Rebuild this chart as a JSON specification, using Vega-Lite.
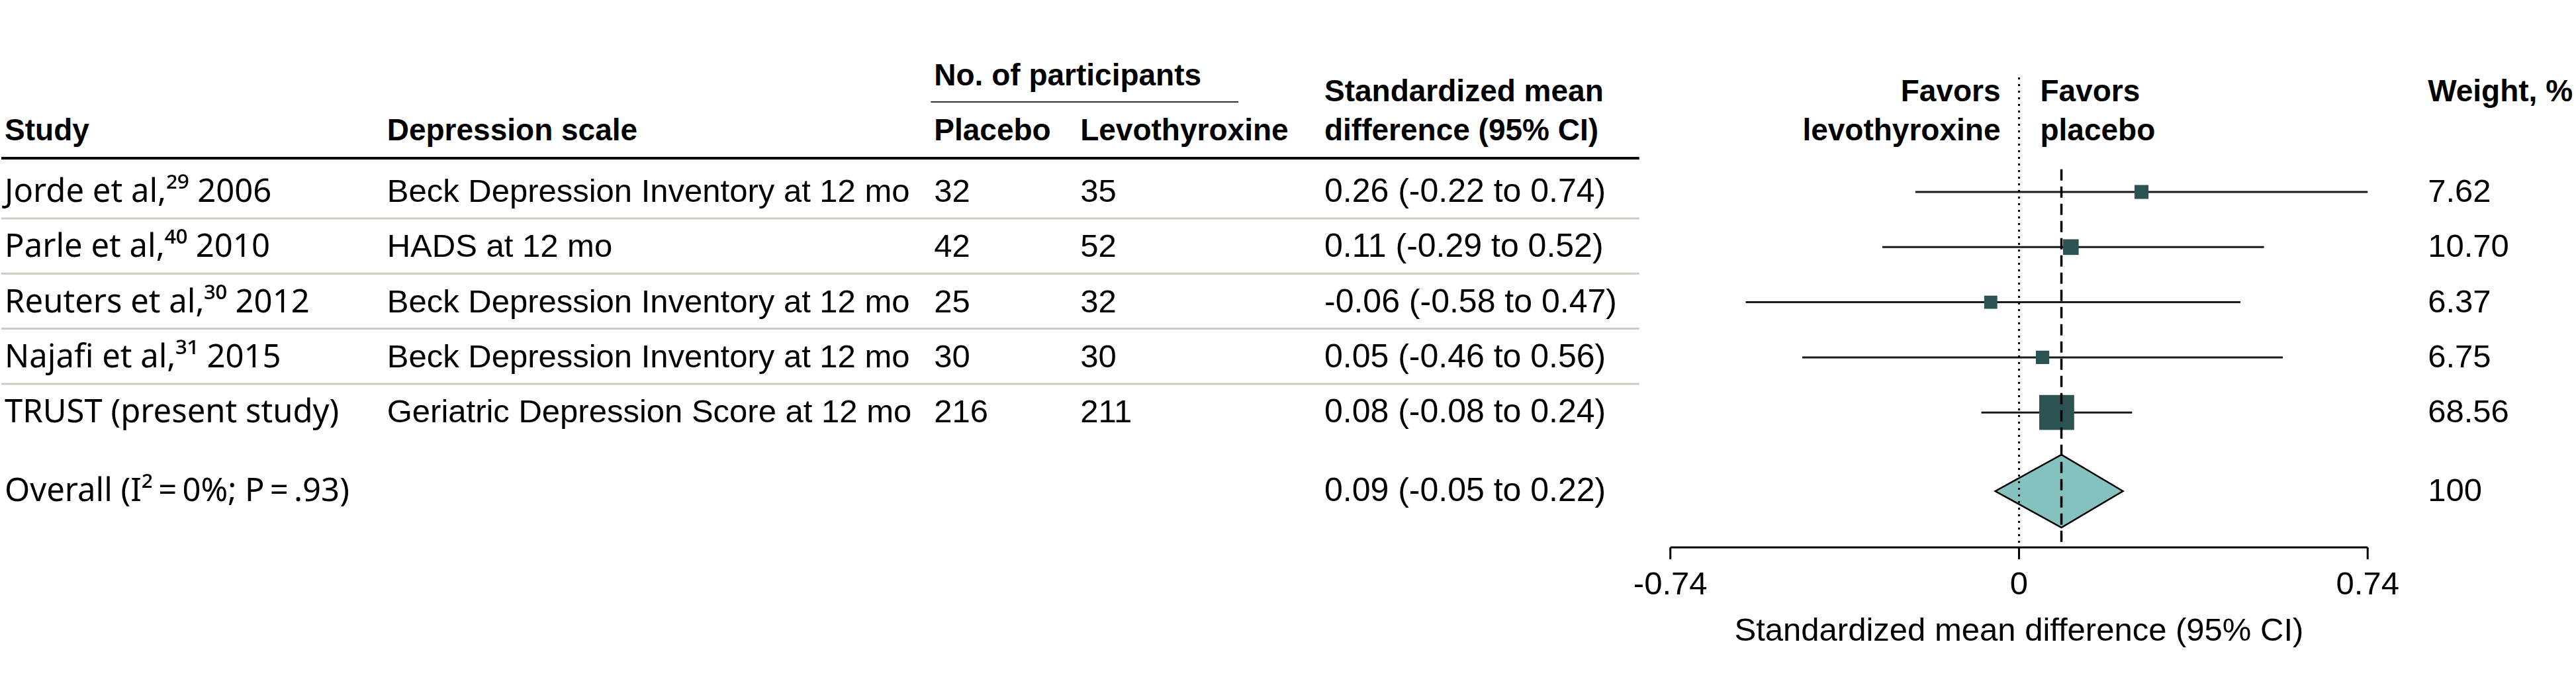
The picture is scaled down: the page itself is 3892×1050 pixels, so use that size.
{
  "$schema": "https://vega.github.io/schema/vega-lite/v6.json",
  "width": 3892,
  "height": 1050,
  "autosize": {"type": "fit", "contains": "padding"},
  "padding": 0,
  "background": "white",
  "config": {
    "view": {"stroke": null},
    "font": "Liberation Sans",
    "text": {"font": "Liberation Sans", "fontSize": 49, "baseline": "middle", "align": "left", "color": "#000000"}
  },
  "datasets": {
    "studies": [
      {"order": 1, "study": "Jorde et al,²⁹ 2006", "scale": "Beck Depression Inventory at 12 mo", "placebo": "32", "levo": "35", "smd_text": "0.26 (-0.22 to 0.74)", "est": 0.26, "lo": -0.22, "hi": 0.74, "weight": 7.62, "weight_text": "7.62"},
      {"order": 2, "study": "Parle et al,⁴⁰ 2010", "scale": "HADS at 12 mo", "placebo": "42", "levo": "52", "smd_text": "0.11 (-0.29 to 0.52)", "est": 0.11, "lo": -0.29, "hi": 0.52, "weight": 10.70, "weight_text": "10.70"},
      {"order": 3, "study": "Reuters et al,³⁰ 2012", "scale": "Beck Depression Inventory at 12 mo", "placebo": "25", "levo": "32", "smd_text": "-0.06 (-0.58 to 0.47)", "est": -0.06, "lo": -0.58, "hi": 0.47, "weight": 6.37, "weight_text": "6.37"},
      {"order": 4, "study": "Najafi et al,³¹ 2015", "scale": "Beck Depression Inventory at 12 mo", "placebo": "30", "levo": "30", "smd_text": "0.05 (-0.46 to 0.56)", "est": 0.05, "lo": -0.46, "hi": 0.56, "weight": 6.75, "weight_text": "6.75"},
      {"order": 5, "study": "TRUST (present study)", "scale": "Geriatric Depression Score at 12 mo", "placebo": "216", "levo": "211", "smd_text": "0.08 (-0.08 to 0.24)", "est": 0.08, "lo": -0.08, "hi": 0.24, "weight": 68.56, "weight_text": "68.56"}
    ],
    "overall": [
      {"label": "Overall (I²\u2009=\u20090%; P\u2009=\u2009.93)", "smd_text": "0.09 (-0.05 to 0.22)", "est": 0.09, "lo": -0.05, "hi": 0.22, "weight_text": "100"}
    ],
    "ticks": [
      {"value": -0.74, "label": "-0.74"},
      {"value": 0, "label": "0"},
      {"value": 0.74, "label": "0.74"}
    ],
    "one": [{"k": 1}]
  },
  "data": {"name": "one"},
  "layer": [
    {
      "mark": {"type": "rule", "strokeWidth": 4, "color": "#000000"},
      "encoding": {
        "x": {"datum": -4.2825, "type": "quantitative", "scale": {"domain": [-4.2825, 1.1822], "nice": false, "zero": false}, "axis": null},
        "x2": {"datum": -0.806},
        "y": {"datum": 0.3878, "type": "quantitative", "scale": {"domain": [-2.4814, 10.1236], "nice": false, "zero": false, "reverse": true}, "axis": null}
      }
    },
    {
      "mark": {"type": "rule", "strokeWidth": 2, "color": "#333333"},
      "encoding": {
        "x": {"datum": -2.3097, "type": "quantitative"},
        "x2": {"datum": -1.6568},
        "y": {"datum": -0.6327, "type": "quantitative"}
      }
    },
    {
      "data": {"name": "studies"},
      "transform": [{"filter": "datum.order < 5"}],
      "mark": {"type": "rule", "strokeWidth": 3, "color": "#c9cdbf", "yOffset": 40},
      "encoding": {
        "x": {"datum": -4.2825, "type": "quantitative"},
        "x2": {"datum": -0.806},
        "y": {"field": "order", "type": "quantitative"}
      }
    },
    {"mark": {"type": "text", "text": "No. of participants", "fontWeight": "bold", "fontSize": 46}, "encoding": {"x": {"datum": -2.3027, "type": "quantitative"}, "y": {"datum": -1.1008, "type": "quantitative"}}},
    {"mark": {"type": "text", "text": "Standardized mean", "fontWeight": "bold", "fontSize": 46}, "encoding": {"x": {"datum": -1.4743, "type": "quantitative"}, "y": {"datum": -0.8127, "type": "quantitative"}}},
    {"mark": {"type": "text", "text": "difference (95% CI)", "fontWeight": "bold", "fontSize": 46}, "encoding": {"x": {"datum": -1.4743, "type": "quantitative"}, "y": {"datum": -0.1044, "type": "quantitative"}}},
    {"mark": {"type": "text", "text": "Study", "fontWeight": "bold", "fontSize": 46}, "encoding": {"x": {"datum": -4.2754, "type": "quantitative"}, "y": {"datum": -0.1044, "type": "quantitative"}}},
    {"mark": {"type": "text", "text": "Depression scale", "fontWeight": "bold", "fontSize": 46}, "encoding": {"x": {"datum": -3.4639, "type": "quantitative"}, "y": {"datum": -0.1044, "type": "quantitative"}}},
    {"mark": {"type": "text", "text": "Placebo", "fontWeight": "bold", "fontSize": 46}, "encoding": {"x": {"datum": -2.3027, "type": "quantitative"}, "y": {"datum": -0.1044, "type": "quantitative"}}},
    {"mark": {"type": "text", "text": "Levothyroxine", "fontWeight": "bold", "fontSize": 46}, "encoding": {"x": {"datum": -1.9924, "type": "quantitative"}, "y": {"datum": -0.1044, "type": "quantitative"}}},
    {"mark": {"type": "text", "text": "Favors", "align": "right", "fontWeight": "bold", "fontSize": 46}, "encoding": {"x": {"datum": -0.0393, "type": "quantitative"}, "y": {"datum": -0.8127, "type": "quantitative"}}},
    {"mark": {"type": "text", "text": "levothyroxine", "align": "right", "fontWeight": "bold", "fontSize": 46}, "encoding": {"x": {"datum": -0.0393, "type": "quantitative"}, "y": {"datum": -0.1044, "type": "quantitative"}}},
    {"mark": {"type": "text", "text": "Favors", "fontWeight": "bold", "fontSize": 46}, "encoding": {"x": {"datum": 0.0449, "type": "quantitative"}, "y": {"datum": -0.8127, "type": "quantitative"}}},
    {"mark": {"type": "text", "text": "placebo", "fontWeight": "bold", "fontSize": 46}, "encoding": {"x": {"datum": 0.0449, "type": "quantitative"}, "y": {"datum": -0.1044, "type": "quantitative"}}},
    {"mark": {"type": "text", "text": "Weight, %", "fontWeight": "bold", "fontSize": 46}, "encoding": {"x": {"datum": 0.8677, "type": "quantitative"}, "y": {"datum": -0.8127, "type": "quantitative"}}},
    {"data": {"name": "studies"}, "mark": {"type": "text", "font": "Noto Sans", "fontSize": 49}, "encoding": {"x": {"datum": -4.2754, "type": "quantitative"}, "y": {"field": "order", "type": "quantitative"}, "text": {"field": "study"}}},
    {"data": {"name": "studies"}, "mark": {"type": "text"}, "encoding": {"x": {"datum": -3.4639, "type": "quantitative"}, "y": {"field": "order", "type": "quantitative"}, "text": {"field": "scale"}}},
    {"data": {"name": "studies"}, "mark": {"type": "text"}, "encoding": {"x": {"datum": -2.3027, "type": "quantitative"}, "y": {"field": "order", "type": "quantitative"}, "text": {"field": "placebo"}}},
    {"data": {"name": "studies"}, "mark": {"type": "text"}, "encoding": {"x": {"datum": -1.9924, "type": "quantitative"}, "y": {"field": "order", "type": "quantitative"}, "text": {"field": "levo"}}},
    {"data": {"name": "studies"}, "mark": {"type": "text", "fontSize": 50}, "encoding": {"x": {"datum": -1.4743, "type": "quantitative"}, "y": {"field": "order", "type": "quantitative"}, "text": {"field": "smd_text"}}},
    {"data": {"name": "studies"}, "mark": {"type": "text"}, "encoding": {"x": {"datum": 0.8677, "type": "quantitative"}, "y": {"field": "order", "type": "quantitative"}, "text": {"field": "weight_text"}}},
    {"data": {"name": "studies"}, "mark": {"type": "rule", "strokeWidth": 3, "color": "#1a1a1a"}, "encoding": {"x": {"field": "lo", "type": "quantitative"}, "x2": {"field": "hi"}, "y": {"field": "order", "type": "quantitative"}}},
    {"data": {"name": "studies"}, "mark": {"type": "point", "shape": "square", "filled": true, "opacity": 1, "color": "#2a5352"}, "encoding": {"x": {"field": "est", "type": "quantitative"}, "y": {"field": "order", "type": "quantitative"}, "size": {"field": "weight", "type": "quantitative", "scale": {"domain": [6, 69], "range": [380, 2800]}, "legend": null}}},
    {"data": {"name": "overall"}, "mark": {"type": "point", "shape": "M-1,0L0,-0.55L0.93,0L0,0.55Z", "filled": true, "opacity": 1, "fill": "#85c1bf", "stroke": "#000000", "strokeWidth": 2.5, "size": 40000}, "encoding": {"x": {"field": "est", "type": "quantitative"}, "y": {"datum": 6.426, "type": "quantitative"}}},
    {"data": {"name": "overall"}, "mark": {"type": "text", "font": "Noto Sans", "fontSize": 49}, "encoding": {"x": {"datum": -4.2754, "type": "quantitative"}, "y": {"datum": 6.426, "type": "quantitative"}, "text": {"field": "label"}}},
    {"data": {"name": "overall"}, "mark": {"type": "text", "fontSize": 50}, "encoding": {"x": {"datum": -1.4743, "type": "quantitative"}, "y": {"datum": 6.426, "type": "quantitative"}, "text": {"field": "smd_text"}}},
    {"data": {"name": "overall"}, "mark": {"type": "text"}, "encoding": {"x": {"datum": 0.8677, "type": "quantitative"}, "y": {"datum": 6.426, "type": "quantitative"}, "text": {"field": "weight_text"}}},
    {
      "mark": {"type": "rule", "strokeWidth": 3, "strokeDash": [3, 7], "color": "#000000"},
      "encoding": {
        "x": {"datum": 0, "type": "quantitative"},
        "y": {"datum": -1.0768, "type": "quantitative"},
        "y2": {"datum": 7.4466}
      }
    },
    {
      "data": {"name": "overall"},
      "mark": {"type": "rule", "strokeWidth": 3.5, "strokeDash": [17, 9], "color": "#000000"},
      "encoding": {
        "x": {"field": "est", "type": "quantitative"},
        "y": {"datum": 0.59, "type": "quantitative"},
        "y2": {"datum": 7.4466}
      }
    },
    {
      "mark": {"type": "rule", "strokeWidth": 3, "color": "#000000"},
      "encoding": {
        "x": {"datum": -0.74, "type": "quantitative"},
        "x2": {"datum": 0.74},
        "y": {"datum": 7.4466, "type": "quantitative"}
      }
    },
    {"data": {"name": "ticks"}, "mark": {"type": "rule", "strokeWidth": 3, "color": "#000000"}, "encoding": {"x": {"field": "value", "type": "quantitative"}, "y": {"datum": 7.4466, "type": "quantitative"}, "y2": {"datum": 7.6627}}},
    {"data": {"name": "ticks"}, "mark": {"type": "text", "align": "center"}, "encoding": {"x": {"field": "value", "type": "quantitative"}, "y": {"datum": 8.1188, "type": "quantitative"}, "text": {"field": "label"}}},
    {
      "mark": {"type": "text", "align": "center", "text": "Standardized mean difference (95% CI)"},
      "encoding": {
        "x": {"datum": 0, "type": "quantitative"},
        "y": {"datum": 8.959, "type": "quantitative"}
      }
    }
  ]
}
